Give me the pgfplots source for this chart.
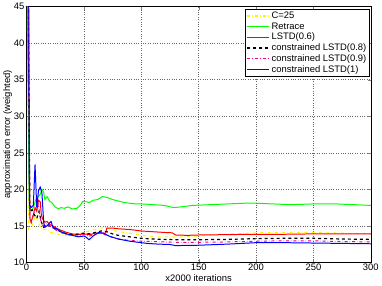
\documentclass[border=0pt]{standalone}
\usepackage{pgfplots}
\pgfplotsset{compat=1.18}
\usepackage{fontspec}
\setmainfont{Liberation Sans}
\begin{document}
\begin{tikzpicture}
\begin{axis}[
  scale only axis, width=346bp, height=257bp,
  xmin=0, xmax=300, ymin=10, ymax=45,
  xtick={0,50,...,300}, ytick={10,15,...,45},
  grid=major, major grid style={black!60, dotted, line width=0.5pt},
  tick align=inside, major tick length=3pt,
  axis line style={line width=0.6pt},
  /pgf/number format/assume math mode=true,
  tick label style={font=\fontsize{9.5}{10}\selectfont},
  label style={font=\fontsize{9.5}{10}\selectfont},
  xlabel={x2000 iterations}, ylabel={approximation error (weighted)},
  xlabel style={yshift=2.5pt},
  ylabel style={yshift=-5pt},
  yticklabel style={xshift=1.5pt},
  xticklabel style={yshift=2pt},
  legend image code/.code={\draw[#1,line width=1.4pt] plot coordinates {(0cm,0cm) (0.39cm,0cm) (0.78cm,0cm)};},
  legend style={at={(0.997,0.992)}, anchor=north east,
    font=\fontsize{9.5}{10}\selectfont, inner sep=1pt, row sep=-1.5pt},
  every axis legend/.append style={draw=black, line width=0.9pt, fill=white},
  legend cell align=left,
]
\addplot[yellow, dash dot, line width=1pt] coordinates {
(0,60)(1,45)(2,14.5)(4,14.6)(6,15.5)(8,16.5)(10,15.5)(12,15)(14,14.5)(17,14.5)(20,14.2)(25,13.9)(30,13.8)(35,13.7)(40,13.8)(45,13.9)(50,14.1)(55,14.3)(60,14.5)(65,14.7)(70,14.8)(75,14.4)(80,14.2)(90,14.0)(100,13.7)(110,13.5)(120,13.5)(135,13.5)(150,13.6)(165,13.8)(180,13.9)(200,14.05)(225,14.1)(250,14.1)(275,14.0)(300,13.9)};
\addlegendentry{C=25}
\addplot[green, line width=1pt] coordinates {
(0,60)(1,40)(2.5,17.8)(4,17)(6,17.5)(8,18.5)(10,19)(12,19.3)(13.5,20)(15,19.6)(16,18.6)(18,19.0)(20,18.4)(22,18.2)(25,17.6)(28,17.3)(30,17.5)(33,17.4)(36,17.6)(40,17.3)(44,17.4)(47,17.8)(49,18.35)(52,18.3)(55,18.2)(58,18.5)(62,18.6)(66,19.0)(70,18.9)(75,18.6)(80,18.4)(85,18.2)(90,18.1)(95,18.0)(100,18.0)(110,17.9)(120,17.8)(128,17.5)(135,17.6)(145,17.8)(160,17.9)(175,18.0)(190,18.1)(200,18.1)(215,18.0)(230,17.9)(250,18.0)(270,18.0)(285,17.9)(300,17.8)};
\addlegendentry{Retrace}
\addplot[red, line width=1pt] coordinates {
(0,60)(1.5,48)(3,16)(4,15.5)(6,16.5)(7.5,17.5)(9,17)(10.5,18.5)(12,18.3)(13,16.5)(14,16)(16,15.5)(18,15.6)(20,15.2)(23,15.0)(26,14.7)(30,14.4)(35,14.1)(40,13.9)(45,13.8)(50,13.9)(55,13.8)(60,14.0)(65,14.0)(69,14.0)(70,14.7)(75,14.7)(80,14.6)(90,14.5)(100,14.3)(110,14.2)(120,14.1)(127,14.05)(130,13.75)(140,13.7)(150,13.75)(175,13.8)(200,13.85)(225,13.85)(250,13.9)(275,13.9)(300,13.9)};
\addlegendentry{LSTD(0.6)}
\addplot[black, dashed, line width=1.2pt] coordinates {
(0,60)(1.5,48)(3,17)(5,17.2)(7,16.5)(9,16)(11,17)(13,15.5)(15,14.8)(18,15.2)(20,15.0)(25,14.6)(30,14.2)(35,13.9)(40,13.8)(45,13.9)(50,14.0)(55,13.9)(60,14.1)(65,14.3)(70,14.2)(75,13.9)(80,13.7)(90,13.5)(100,13.3)(110,13.2)(130,13.1)(150,13.1)(175,13.15)(200,13.25)(225,13.3)(250,13.3)(275,13.2)(300,13.15)};
\addlegendentry{constrained LSTD(0.8)}
\addplot[magenta, dash dot, line width=1pt] coordinates {
(0,60)(1.5,48)(3,16.5)(4.5,15.5)(6,16.5)(8,17.5)(10,18)(12,16)(14,15)(17,15.3)(20,15.0)(25,14.5)(30,14.1)(35,13.8)(40,13.7)(45,13.6)(50,13.8)(55,13.6)(60,13.9)(65,14.0)(70,13.7)(75,13.4)(80,13.2)(90,13.0)(100,12.9)(110,12.85)(130,12.75)(150,12.75)(175,12.8)(200,12.9)(225,12.95)(250,12.95)(275,12.85)(300,12.8)};
\addlegendentry{constrained LSTD(0.9)}
\addplot[blue, line width=1pt] coordinates {
(0,60)(2,46)(2.5,18)(4,17.5)(6,17.8)(7.5,23.4)(9,17.5)(10.5,19.8)(12,20.3)(13.5,19.5)(15,15.5)(16,14.8)(18,15.0)(20,15.4)(21.5,15.6)(23,14.8)(26,14.6)(30,14.2)(35,13.9)(40,13.7)(45,13.5)(50,13.6)(52,13.45)(54.6,13.1)(58,13.6)(63,14.1)(67,14.0)(72,13.6)(75,13.45)(80,13.2)(90,12.9)(95,12.8)(105,12.6)(115,12.5)(125,12.45)(130,12.3)(150,12.35)(175,12.5)(200,12.7)(225,12.7)(250,12.65)(275,12.6)(300,12.55)};
\addlegendentry{constrained LSTD(1)}
\end{axis}
\end{tikzpicture}
\end{document}
